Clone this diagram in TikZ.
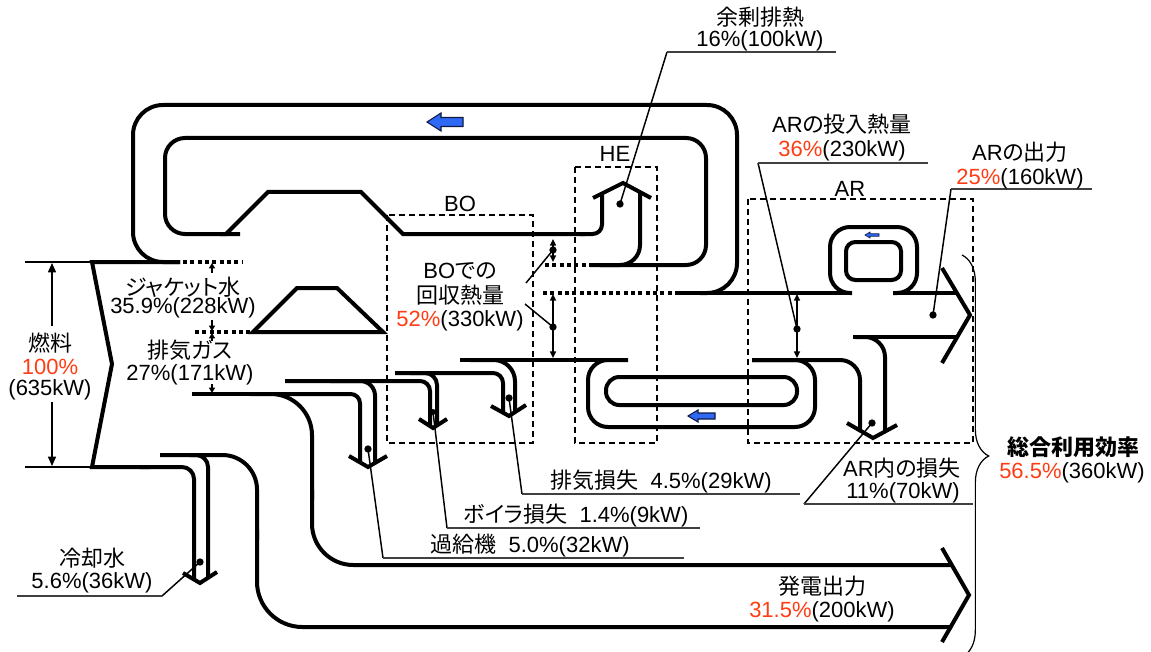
\documentclass[tikz,border=0pt]{standalone}
\usepackage{fontspec}
\setmainfont{Liberation Sans}
\newfontfamily\jpfont{Noto Sans CJK JP}[RawFeature=+palt]
\newcommand\JP[1]{{\jpfont #1}}
\newcommand\RED[1]{\textcolor{pct}{#1}}
\usetikzlibrary{arrows.meta,decorations.pathreplacing}
\definecolor{pct}{RGB}{255,60,20}
\definecolor{barrow}{RGB}{45,105,245}
\definecolor{bedge}{RGB}{15,25,70}
\begin{document}
\begin{tikzpicture}[x=0.75pt,y=-0.75pt,
  flow/.style={line width=3pt},
  thinl/.style={line width=1.1pt},
  uline/.style={line width=1pt, black!75},
  dotl/.style={line width=3pt, dash pattern=on 3pt off 2.5pt},
  boxl/.style={line width=1.5pt, dash pattern=on 4.5pt off 3pt},
  lbl/.style={inner sep=0pt, anchor=base, font=\fontsize{16.5}{19}\selectfont},
  pdot/.style={circle, fill=black, inner sep=0pt, minimum size=5.5pt},
  sdim/.style={thinl, {Triangle[length=5pt,width=4.5pt]}-{Triangle[length=5pt,width=4.5pt]}},
  sarr/.style={thinl, -{Triangle[length=4pt,width=4.5pt]}},
  barr/.style={fill=barrow, draw=bedge, line width=0.8pt},
]
\useasboundingbox (0,0) rectangle (1151,652);

% ---------- dashed boxes ----------
\draw[boxl] (387,215) rectangle (533,443);
\draw[boxl] (575,167) rectangle (657,443);
\draw[boxl] (748,199) rectangle (973,443);
\node[lbl] (lBO) at (460,212) {BO};
\node[lbl] (lHE) at (615,162) {HE};
\node[lbl] (lAR) at (850,196) {AR};

% ---------- fuel ----------
\draw[thinl] (25,262) -- (92,262);
\draw[thinl] (25,467) -- (92,467);
\draw[thinl,-{Triangle[length=7pt,width=6pt]}] (52,326) -- (52,263);
\draw[thinl,-{Triangle[length=7pt,width=6pt]}] (52,402) -- (52,466);
\draw[flow] (180,262) -- (92,262) -- (112,364) -- (92,467) -- (150,467);
\draw[dotl] (183,262) -- (242,262);
\draw[flow, rounded corners=9pt] (140,467) -| (194,579);

% ---------- top loops ----------
\draw[flow, rounded corners=22.5pt] (180,262) -| (133,105) -| (737,293) -- (700,293);
\draw[flow] (677,293) -- (852,293);
\draw[dotl] (543,293) -- (677,293);
\draw[flow, rounded corners=15pt] (590,265) -- (706,265) |- (165,138) |- (240,234);
\draw[flow] (220,234) -- (226,234) -- (268,192) -- (361,192) -- (403,234) -- (585,234);
\draw[flow, rounded corners=7pt] (580,234) -| (602,195);
\draw[flow] (593,198) -- (623,183) -- (651,198);
\draw[flow, rounded corners=15pt] (640,193) |- (600,265);
\draw[dotl] (545,265) -- (590,265);
\filldraw[barr] (427,122) -- (441,113) -- (441,117.5) -- (463,117.5) -- (463,126.5) -- (441,126.5) -- (441,131) -- cycle;

% ---------- engine / jacket ----------
\draw[flow] (253,332) -- (297,288) -- (337,288) -- (383,332) -- cycle;
\draw[dotl] (195,332) -- (250,332);
\draw[sarr] (212,273) -- (212,263);
\draw[sarr] (212,320) -- (212,331);
\draw[sarr] (212,341) -- (212,333);
\draw[sarr] (212,384) -- (212,393);

% ---------- exhaust and losses ----------
\draw[flow] (192,394) -- (300,394);
\draw[flow, rounded corners=7pt] (290,394) -| (360,462);
\draw[flow, rounded corners=31pt] (250,394) -| (312,500);
\draw[flow, rounded corners=31pt] (312,490) |- (952,565);
\draw[flow, rounded corners=7.5pt] (285,381) -| (430,425);
\draw[flow, rounded corners=11pt] (330,381) -| (375,462);
\draw[flow, rounded corners=7.5pt] (395,373) -| (503,412);
\draw[flow, rounded corners=9pt] (410,373) -| (437,425);
\draw[flow] (460,360) -- (628,360);
\draw[flow, rounded corners=16pt] (470,360) -| (515,412);
\draw[flow] (349,456) -- (368,467) -- (387,456);
\draw[flow] (419,419) -- (433,428) -- (447,419);
\draw[flow] (491,406) -- (509,416) -- (526,405);

% ---------- cooling water and power ----------
\draw[flow, rounded corners=9pt] (160,455) -| (208,579);
\draw[flow, rounded corners=26pt] (190,455) -| (257,540);
\draw[flow, rounded corners=34pt] (257,530) |- (952,627);
\draw[flow] (183,573) -- (200,583) -- (217,572);
\draw[flow] (942,548) -- (969,595) -- (942,642);

% ---------- HE-AR loop ----------
\draw[flow, rounded corners=15pt] (628,360) -| (588,427) -| (815,360) -- (752,360);
\draw[flow, rounded corners=10pt] (606,377) rectangle (797,405);
\filldraw[barr] (688,416) -- (698,410) -- (698,413) -- (715,413) -- (715,419) -- (698,419) -- (698,422) -- cycle;

% ---------- AR ----------
\draw[flow, rounded corners=15pt] (752,360) -| (860,431);
\draw[flow] (853,337) -- (957,337);
\draw[flow, rounded corners=15pt] (855,337) -| (885,431);
\draw[flow] (847,423) -- (873,438) -- (897,425);
\draw[flow, rounded corners=15pt] (852,293) -| (830,227) -| (917,293) -- (893,293);
\draw[flow] (893,293) -- (957,293);
\draw[flow] (942,268) -- (970,315) -- (942,363);
\draw[flow, rounded corners=7pt] (846,242) rectangle (901,280);
\filldraw[barr, line width=0.5pt] (865,235) -- (870,232) -- (870,233.8) -- (879,233.8) -- (879,236.2) -- (870,236.2) -- (870,238) -- cycle;

% ---------- dimension arrows ----------
\draw[sdim] (553,239) -- (553,262);
\draw[sdim] (553,294) -- (553,358);
\draw[sdim] (797,294) -- (797,358);

% ---------- dots ----------
\node[pdot] (dHE) at (620,204) {};
\node[pdot] (dB1) at (553,250) {};
\node[pdot] (dB2) at (553,327) {};
\node[pdot] (dEx) at (509,398) {};
\node[pdot, minimum size=4.5pt] (dBo) at (433,412) {};
\node[pdot] (dTC) at (368,449) {};
\node[pdot] (dCW) at (200,562) {};
\node[pdot] (dARi) at (797,329) {};
\node[pdot] (dARo) at (933,315) {};
\node[pdot] (dARl) at (872,423) {};

% ---------- leaders ----------
\coordinate (cHE) at (667,52);   \coordinate (eHE) at (836,52);
\coordinate (cB1) at (526,283);  \coordinate (cB2) at (525,304);
\coordinate (cARi) at (758,163); \coordinate (eARi) at (928,163);
\coordinate (cARo) at (951,189); \coordinate (eARo) at (1092,189);
\coordinate (cARl) at (804,504); \coordinate (eARl) at (973,504);
\coordinate (cEx) at (522,494);  \coordinate (eEx) at (800,494);
\coordinate (cBo) at (447,528);  \coordinate (eBo) at (700,528);
\coordinate (cTC) at (383,558);  \coordinate (eTC) at (684,558);
\coordinate (cCW) at (162,596);  \coordinate (eCW) at (17,596);
\draw[thinl] (dHE.center) -- (cHE);   \draw[uline] (cHE) -- (eHE);
\draw[thinl] (cB1) -- (dB1.center);
\draw[thinl] (cB2) -- (dB2.center);
\draw[thinl] (dARi.center) -- (cARi); \draw[uline] (cARi) -- (eARi);
\draw[thinl] (dARo.center) -- (cARo); \draw[uline] (cARo) -- (eARo);
\draw[thinl] (dARl.center) -- (cARl); \draw[uline] (cARl) -- (eARl);
\draw[thinl] (dEx.center) -- (cEx);   \draw[uline] (cEx) -- (eEx);
\draw[thinl] (dBo.center) -- (cBo);   \draw[uline] (cBo) -- (eBo);
\draw[thinl] (dTC.center) -- (cTC);   \draw[uline] (cTC) -- (eTC);
\draw[thinl] (dCW.center) -- (cCW);   \draw[uline] (cCW) -- (eCW);

% ---------- brace ----------
\draw[line width=0.9pt, decorate, decoration={brace, amplitude=20pt}] (962,255) -- (962,657);

% ---------- labels ----------
\node[lbl] (t1a) at (760,26) {\JP{余剰排熱}};
\node[lbl] (t1b) at (760,47) {16\%(100kW)};
\node[lbl] (t2a) at (842,133) {AR\JP{の投入熱量}};
\node[lbl] (t2b) at (842,157) {\RED{36\%}(230kW)};
\node[lbl] (t3a) at (1020,161) {AR\JP{の出力}};
\node[lbl] (t3b) at (1020,185) {\RED{25\%}(160kW)};
\node[lbl] (t4a) at (460,278) {BO\JP{での}};
\node[lbl] (t4b) at (460,303) {\JP{回収熱量}};
\node[lbl] (t4c) at (460,326) {\RED{52\%}(330kW)};
\node[lbl] (t5a) at (183,295) {\JP{ジャケット水}};
\node[lbl] (t5b) at (183,313) {35.9\%(228kW)};
\node[lbl] (t6a) at (190,358) {\JP{排気ガス}};
\node[lbl] (t6b) at (190,380) {27\%(171kW)};
\node[lbl] (t7a) at (50,351) {\JP{燃料}};
\node[lbl] (t7b) at (50,374) {\RED{100\%}};
\node[lbl] (t7c) at (50,395) {(635kW)};
\node[lbl] (t8) at (661,488) {\JP{排気損失}\ \ 4.5\%(29kW)};
\node[lbl] (t9) at (576,522) {\JP{ボイラ損失}\ \ 1.4\%(9kW)};
\node[lbl] (t10) at (530,552) {\JP{過給機}\ \ 5.0\%(32kW)};
\node[lbl] (t11a) at (902,476) {AR\JP{内の損失}};
\node[lbl] (t11b) at (903,498) {11\%(70kW)};
\node[lbl] (t12a) at (1073,455) {\jpfont\bfseries 総合利用効率};
\node[lbl] (t12b) at (1072,478) {\RED{56.5\%}(360kW)};
\node[lbl] (t13a) at (92,566) {\JP{冷却水}};
\node[lbl] (t13b) at (92,588) {5.6\%(36kW)};
\node[lbl] (t14a) at (822,594) {\JP{発電出力}};
\node[lbl] (t14b) at (822,617) {\RED{31.5\%}(200kW)};
\end{tikzpicture}
\end{document}
